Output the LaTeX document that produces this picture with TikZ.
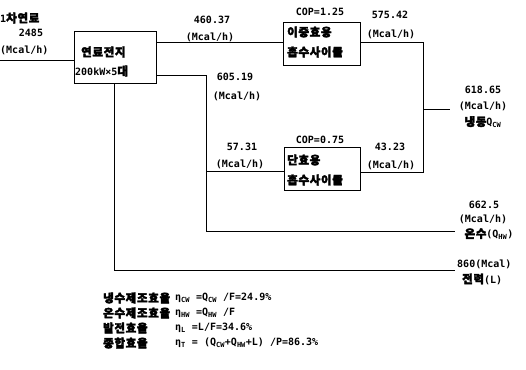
\documentclass[tikz,border=0pt]{standalone}
\usepackage{fontspec}
\setmainfont{DejaVu Sans Mono}
\newfontfamily\kr{Noto Sans CJK KR}[FakeBold=3, LetterSpace=6, Scale=1.15]
\newcommand{\sbs}[1]{\textsubscript{#1}}
\begin{document}
\begin{tikzpicture}[x=1pt,y=-1pt,
  lbl/.style={font=\bfseries\fontsize{10}{11}\selectfont, inner sep=0pt},
  box/.style={draw, line width=0.8pt, inner sep=0pt},
  ln/.style={line width=0.8pt}]
\useasboundingbox (0,0) rectangle (526,369);
% boxes
\node[box, minimum width=82pt, minimum height=52pt, anchor=north west] (fc) at (74,31) {};
\node[box, minimum width=77pt, minimum height=43pt, anchor=north west] (de) at (283,22) {};
\node[box, minimum width=76pt, minimum height=43pt, anchor=north west] (se) at (284,147) {};
% box texts
\node[lbl, anchor=west] (fc1) at (81,52) {\kr 연료전지};
\node[lbl, anchor=west] (fc2) at (75,71) {200kW×5{\kr 대}};
\node[lbl, anchor=west] (de1) at (287,32) {\kr 이중효용};
\node[lbl, anchor=west] (de2) at (287,52) {\kr 흡수사이클};
\node[lbl, anchor=west] (se1) at (287,160) {\kr 단효용};
\node[lbl, anchor=west] (se2) at (287,180) {\kr 흡수사이클};
% coordinates
\coordinate (in) at (0,60);
\coordinate (j1) at (206,75);
\coordinate (j2) at (206,171);
\coordinate (j3) at (206,231);
\coordinate (e1) at (455,231);
\coordinate (b1) at (114,270);
\coordinate (e2) at (455,270);
\coordinate (r1) at (423,42);
\coordinate (r2) at (423,172);
\coordinate (r3) at (423,109);
\coordinate (e3) at (450,109);
% connectors
\draw[ln] (in) -- (in -| fc.west);
\draw[ln] (fc.east |- 0,42) -- (de.west |- 0,42);
\draw[ln] (fc.east |- j1) -- (j1) -- (j3) -- (e1);
\draw[ln] (j2) -- (j2 -| se.west);
\draw[ln] (fc.south -| b1) -- (b1) -- (e2);
\draw[ln] (de.east |- r1) -- (r1) -- (r2) -- (r2 -| se.east);
\draw[ln] (r3) -- (e3);
% labels
\node[lbl, anchor=west] (t1) at (0,18) {1{\kr 차연료}};
\node[lbl] (t2) at (31,33) {2485};
\node[lbl, anchor=west] (t3) at (0,50) {(Mcal/h)};
\node[lbl] (a1) at (212,20) {460.37};
\node[lbl] (a2) at (210,37) {(Mcal/h)};
\node[lbl] (c1) at (320,12) {COP=1.25};
\node[lbl] (a3) at (390,15) {575.42};
\node[lbl] (a4) at (391,34) {(Mcal/h)};
\node[lbl] (a5) at (235,77) {605.19};
\node[lbl] (a6) at (237,96) {(Mcal/h)};
\node[lbl] (a7) at (242,147) {57.31};
\node[lbl] (a8) at (240,164) {(Mcal/h)};
\node[lbl] (c2) at (320,140) {COP=0.75};
\node[lbl] (a9) at (390,147) {43.23};
\node[lbl] (a10) at (391,165) {(Mcal/h)};
\node[lbl] (o1) at (483,90) {618.65};
\node[lbl] (o2) at (483,106) {(Mcal/h)};
\node[lbl] (o3) at (483,122) {{\kr 냉동}Q\sbs{CW}};
\node[lbl] (o4) at (484,205) {662.5};
\node[lbl] (o5) at (483,219) {(Mcal/h)};
\node[lbl] (o6) at (489,234) {{\kr 온수}(Q\sbs{HW})};
\node[lbl, anchor=west] (o7) at (457,264) {860(Mcal)};
\node[lbl, anchor=west] (o8) at (462,279) {{\kr 전력}(L)};
% efficiencies
\node[lbl, anchor=west] (k1) at (103,298) {\kr 냉수제조효율};
\node[lbl, anchor=west] (k2) at (103,313) {\kr 온수제조효율};
\node[lbl, anchor=west] (k3) at (103,328) {\kr 발전효율};
\node[lbl, anchor=west] (k4) at (103,343) {\kr 종합효율};
\node[lbl, anchor=west] (f1) at (175,298) {η\sbs{CW} =Q\sbs{CW} /F=24.9\%};
\node[lbl, anchor=west] (f2) at (175,313) {η\sbs{HW} =Q\sbs{HW} /F};
\node[lbl, anchor=west] (f3) at (175,328) {η\sbs{L} =L/F=34.6\%};
\node[lbl, anchor=west] (f4) at (175,343) {η\sbs{T} = (Q\sbs{CW}+Q\sbs{HW}+L) /P=86.3\%};
\end{tikzpicture}
\end{document}
